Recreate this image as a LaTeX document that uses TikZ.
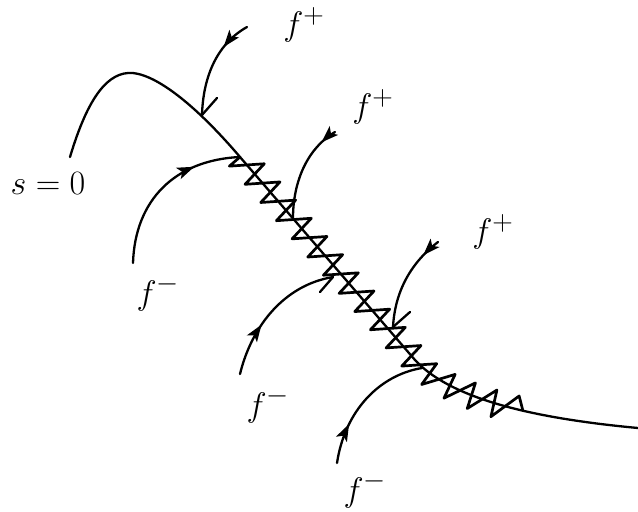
\documentclass[tikz,border=0pt]{standalone}
\usetikzlibrary{decorations,decorations.markings,arrows.meta}
\def\zper{24pt}
\def\zfwd{21pt}
\def\zamp{14pt}
\pgfdeclaredecoration{zsaw}{tooth}{
  \state{tooth}[switch if less than=\zper to final, width=\zper]{
    \pgfpathlineto{\pgfqpoint{0pt}{-\zamp}}
    \pgfpathlineto{\pgfqpoint{\zfwd}{\zamp}}
  }
  \state{final}{\pgfpathlineto{\pgfpointdecoratedpathlast}}
}
\tikzset{
  arrowat/.style={postaction={decorate,decoration={markings,
     mark=at position #1 with {\arrow{Stealth[length=17pt,width=12pt,inset=4pt]}}}}},
  lbl/.style={font=\Huge, scale=1.37, inner sep=0pt},
  chatter/.style={decorate,decoration=zsaw,line width=2.7pt},
}
\begin{document}
\begin{tikzpicture}[x=1pt,y=-1pt,line width=2.3pt,line cap=round,line join=round]
\useasboundingbox (0,0) rectangle (638,512);
% main switching curve s=0
\coordinate (m0) at (70,157);
\coordinate (m1) at (240,157);
\coordinate (m2) at (415,360);
\coordinate (m3) at (522.9,410.7);
\coordinate (m4) at (638,428);
\draw (m0) .. controls (88,97) and (108,71) .. (133,73)
      .. controls (160,76) and (200,110) .. (m1) -- (m2)
      .. controls (436,382.8) and (473.2,399.1) .. (m3)
      .. controls (556.1,418.4) and (594.8,424) .. (m4);
% chattering zigzag
\draw[chatter] (m1) -- (m2)
      .. controls (436,382.8) and (473.2,399.1) .. (m3);
% trajectories f+
\coordinate (a1) at (247,27);  \coordinate (b1) at (202,115); \coordinate (t1) at (217,98);
\draw[arrowat=0.3] (a1) .. controls (215,45) and (203,80) .. (b1);
\draw (b1) -- (t1);
\coordinate (a3) at (335,132); \coordinate (b3) at (293,218);
\draw[arrowat=0.17] (a3) .. controls (305,150) and (293,185) .. (b3);
\coordinate (a5) at (438,242); \coordinate (b5) at (393,327); \coordinate (t5) at (410,312);
\draw[arrowat=0.2] (a5) .. controls (412,262) and (395,290) .. (b5);
\draw (b5) -- (t5);
% trajectories f-
\coordinate (a2) at (133,263); \coordinate (b2) at (240,157);
\draw[arrowat=0.72] (a2) .. controls (135,200) and (175,160) .. (b2);
\coordinate (a4) at (240,374); \coordinate (b4) at (333,277); \coordinate (t4) at (320,292);
\draw[arrowat=0.38] (a4) .. controls (252,325) and (285,285) .. (b4);
\draw (b4) -- (t4);
\coordinate (a6) at (337,463); \coordinate (b6) at (422,368);
\draw[arrowat=0.3] (a6) .. controls (345,410) and (380,375) .. (b6);
% labels
\node[lbl] (s0) at (48,184) {$s=0$};
\node[lbl] (fp1) at (304,25) {$f^+$};
\node[lbl] (fp2) at (373,107) {$f^+$};
\node[lbl] (fp3) at (493,232) {$f^+$};
\node[lbl] (fm1) at (158,293) {$f^-$};
\node[lbl] (fm2) at (268,405) {$f^-$};
\node[lbl] (fm3) at (365,490) {$f^-$};
\end{tikzpicture}
\end{document}
